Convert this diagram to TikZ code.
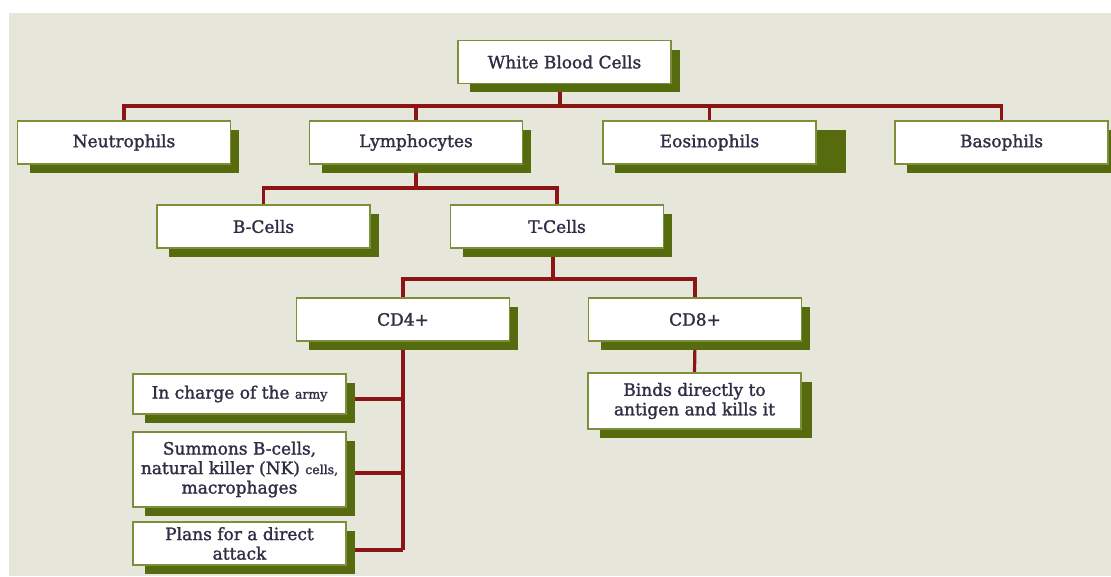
\documentclass[tikz,border=0pt]{standalone}
\usepackage{fontspec}
\setmainfont{DejaVu Serif}
\newfontfamily\boxfont{DejaVu Serif}[BoldFont={DejaVu Serif}, BoldFeatures={FakeBold=1.5}]
\usetikzlibrary{calc}
\definecolor{bgc}{HTML}{E6E7DA}
\definecolor{borderc}{HTML}{7C8F3A}
\definecolor{shadowc}{HTML}{566B0E}
\definecolor{redc}{HTML}{8C1414}
\definecolor{textc}{HTML}{2E2E44}
\pgfdeclarelayer{bg}
\pgfsetlayers{bg,main}
\newcommand\shbox[2][8]{\fill[shadowc] ($(#2.north west)+(13,10)$) rectangle ($(#2.south east)+(#1,8)$);}
\newcommand\smalltxt[1]{{\fontsize{12.5}{14}\selectfont #1}}
\begin{document}
\begin{tikzpicture}[x=1pt,y=-1pt,
  box/.style={draw=borderc, line width=1.3pt, fill=white, minimum width=213pt,
    minimum height=43pt, inner sep=2pt, align=center, text=textc,
    font=\boxfont\bfseries\fontsize{17}{19.5}\selectfont},
  conn/.style={draw=redc, line width=3.2pt}]
\useasboundingbox (0,0) rectangle (1111,576);
% nodes
\node[box] (wbc) at (564.5,62) {White Blood Cells};
\node[box] (neu) at (124,142.5) {Neutrophils};
\node[box] (lym) at (416,142.5) {Lymphocytes};
\node[box] (eos) at (709.5,142.5) {Eosinophils};
\node[box] (bas) at (1001.5,142.5) {Basophils};
\node[box] (bc) at (263.5,226.5) {B-Cells};
\node[box] (tc) at (557,226.5) {T-Cells};
\node[box] (cd4) at (403,319.5) {CD4+};
\node[box] (cd8) at (695,319.5) {CD8+};
\node[box, minimum height=56pt] (bind) at (694.5,401) {Binds directly to\\antigen and kills it};
\node[box, minimum height=40pt] (chg) at (239.5,394) {In charge of the \smalltxt{army}};
\node[box, minimum height=75pt] (sum) at (239.5,469.5) {Summons B-cells,\\natural killer (NK) \smalltxt{cells,}\\macrophages};
\node[box] (pln) at (239.5,543.5) {Plans for a direct\\attack};
\coordinate (j1) at (560,106);
\coordinate (j2) at (416,188);
\coordinate (j3) at (553,279);
\coordinate (j4) at (403,550);
\path ($(chg.east)+(0,5)$) coordinate (c1)
      ($(sum.east)+(0,3.5)$) coordinate (c2)
      ($(pln.east)+(0,6.5)$) coordinate (c3);
\begin{pgfonlayer}{bg}
  \fill[white] (0,0) rectangle (1111,576);
  \fill[bgc] (9,13) rectangle (1111,576);
  % connectors
  \draw[conn] (wbc.south -| j1) -- (j1);
  \draw[conn] (neu.north) |- (j1) -| (bas.north);
  \draw[conn] (lym.north) -- (lym.north |- j1);
  \draw[conn] (eos.north) -- (eos.north |- j1);
  \draw[conn] (lym.south -| j2) -- (j2);
  \draw[conn] (bc.north) |- (j2) -| (tc.north);
  \draw[conn] (tc.south -| j3) -- (j3);
  \draw[conn] (cd4.north) |- (j3) -| (cd8.north);
  \draw[conn] (cd8.south) -- (bind.north);
  \draw[conn] (cd4.south) -- (j4);
  \draw[conn] (c1) -- (c1 -| j4);
  \draw[conn] (c2) -- (c2 -| j4);
  \draw[conn] (c3) -- (c3 -| j4);
  % shadows
  \shbox{wbc}\shbox{neu}\shbox{lym}\shbox[29]{eos}\shbox{bas}
  \shbox{bc}\shbox{tc}\shbox{cd4}\shbox{cd8}\shbox[10]{bind}
  \shbox{chg}\shbox{sum}\shbox{pln}
\end{pgfonlayer}
\end{tikzpicture}
\end{document}
